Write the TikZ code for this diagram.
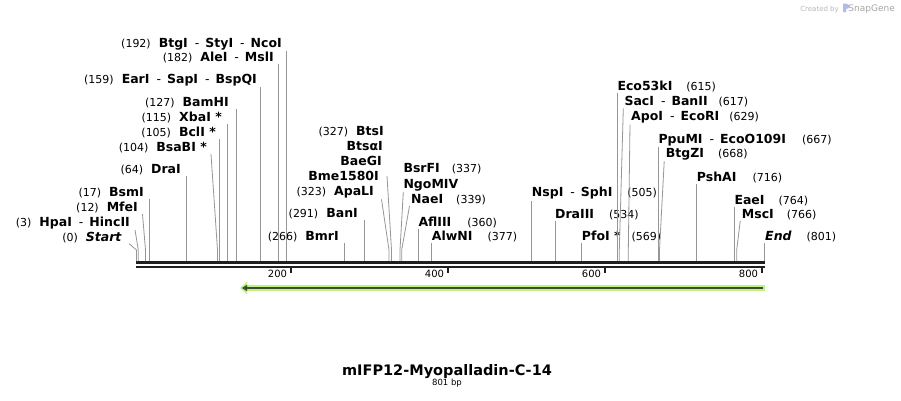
\documentclass[tikz,border=0pt]{standalone}
\usepackage{fontspec}
\setmainfont{DejaVu Sans}[ItalicFont={DejaVu Sans Oblique},BoldItalicFont={DejaVu Sans Bold Oblique}]
\usetikzlibrary{arrows.meta}
\definecolor{cutgray}{RGB}{150,150,150}
\definecolor{orflight}{RGB}{190,242,130}
\definecolor{orfdark}{RGB}{62,76,48}
\newcommand{\bpnum}[1]{{\mdseries\fontsize{11}{12}\selectfont(#1)}}
\newcommand{\orcut}{\hspace{7pt}{\mdseries-}\hspace{6pt}}
\begin{document}
\begin{tikzpicture}[x=1pt, y=-1pt,
  site/.style = {font=\bfseries\fontsize{12.5}{13}\selectfont, inner xsep=0pt, inner ysep=1pt},
  lsite/.style = {site, anchor=base east},
  rsite/.style = {site, anchor=base west},
  cutline/.style = {draw=cutgray, line width=0.8pt}]
\useasboundingbox[fill=white] (0,0) rectangle (901,400);
% cut sites on the sequence
\coordinate (s0) at (136.5,261); \coordinate (s3) at (138.3,261);
\coordinate (s12) at (145.5,261); \coordinate (s17) at (149,261);
\coordinate (s64) at (186,261); \coordinate (s104) at (217.5,261);
\coordinate (s105) at (219,261); \coordinate (s115) at (227,261);
\coordinate (s127) at (236,261); \coordinate (s159) at (260.5,261);
\coordinate (s182) at (278,261); \coordinate (s192) at (286.5,261);
\coordinate (s266) at (344,261); \coordinate (s291) at (364,261);
\coordinate (s323) at (389,261); \coordinate (s327) at (391.5,261);
\coordinate (s337) at (400,261); \coordinate (s339) at (401.7,261);
\coordinate (s360) at (418.3,261); \coordinate (s377) at (431.7,261);
\coordinate (s505) at (531.7,261); \coordinate (s534) at (555,261);
\coordinate (s569) at (581.7,261); \coordinate (s615) at (617,261);
\coordinate (s617) at (619.3,261); \coordinate (s629) at (628.3,261);
\coordinate (s667) at (658.3,261); \coordinate (s668) at (659.5,261);
\coordinate (s716) at (696.7,261); \coordinate (s764) at (734.3,261);
\coordinate (s766) at (736.7,261); \coordinate (s801) at (764.5,261);
% sequence line and ruler
\draw[line width=2.7pt, draw=black!88] (136,262.5) -- (765,262.5);
\draw[line width=2.5pt, draw=black!88] (136,267) -- (765,267);
\foreach \x/\t in {291/200, 448/400, 605/600, 762/800}
  \draw[line width=2pt, draw=black!88] (\x,266) -- (\x,272.5)
    node[anchor=base east, inner sep=0pt, font=\fontsize{10}{11}\selectfont, xshift=-3pt] at (\x,277) {\t};
% labels left of the cut
\node[lsite] (btgi) at (282,47) {\bpnum{192}\hspace{8pt}BtgI\orcut StyI\orcut NcoI};
\node[lsite] (alei) at (274,61.5) {\bpnum{182}\hspace{8pt}AleI\orcut MslI};
\node[lsite] (eari) at (257,83.5) {\bpnum{159}\hspace{8pt}EarI\orcut SapI\orcut BspQI};
\node[lsite] (bamhi) at (229,106.5) {\bpnum{127}\hspace{8pt}BamHI};
\node[lsite] (xbai) at (222,121.5) {\bpnum{115}\hspace{8pt}XbaI *};
\node[lsite] (bcli) at (216,136.5) {\bpnum{105}\hspace{8pt}BclI *};
\node[lsite] (bsabi) at (207,151.5) {\bpnum{104}\hspace{8pt}BsaBI *};
\node[lsite] (drai) at (181,173.5) {\bpnum{64}\hspace{8pt}DraI};
\node[lsite] (bsmi) at (144,196) {\bpnum{17}\hspace{8pt}BsmI};
\node[lsite] (mfei) at (138,211.5) {\bpnum{12}\hspace{8pt}MfeI};
\node[lsite] (hpai) at (130,226) {\bpnum{3}\hspace{8pt}HpaI\orcut HincII};
\node[lsite] (start) at (122,241) {\bpnum{0}\hspace{8pt}\textit{Start}};
\node[lsite] (btsi) at (384,135.5) {\bpnum{327}\hspace{8pt}BtsI};
\node[lsite] (btsai) at (383,150.5) {BtsαI};
\node[lsite] (baegi) at (382,165.5) {BaeGI};
\node[lsite] (bme) at (379,180.5) {Bme1580I};
\node[lsite] (apali) at (374,195.5) {\bpnum{323}\hspace{8pt}ApaLI};
\node[lsite] (bani) at (358,217.5) {\bpnum{291}\hspace{8pt}BanI};
\node[lsite] (bmri) at (339,240) {\bpnum{266}\hspace{8pt}BmrI};
% labels right of the cut
\node[rsite] (bsrfi) at (403.3,172) {BsrFI\hspace{12pt}\bpnum{337}};
\node[rsite] (ngomiv) at (403.3,188) {NgoMIV};
\node[rsite] (naei) at (411,203.3) {NaeI\hspace{13pt}\bpnum{339}};
\node[rsite] (afliii) at (418.3,226) {AflIII\hspace{16pt}\bpnum{360}};
\node[rsite] (alwni) at (431.7,240.5) {AlwNI\hspace{15pt}\bpnum{377}};
\node[rsite] (nspi) at (531.7,196.7) {NspI\orcut SphI\hspace{15pt}\bpnum{505}};
\node[rsite] (draiii) at (555,218.3) {DraIII\hspace{15pt}\bpnum{534}};
\node[rsite] (pfoi) at (581.7,240.7) {PfoI *\hspace{11pt}\bpnum{569}};
\node[rsite] (eco53ki) at (617.3,90.7) {Eco53kI\hspace{14pt}\bpnum{615}};
\node[rsite] (saci) at (624.3,105.7) {SacI\orcut BanII\hspace{11pt}\bpnum{617}};
\node[rsite] (apoi) at (631,120.7) {ApoI\orcut EcoRI\hspace{10pt}\bpnum{629}};
\node[rsite] (ppumi) at (658.3,143.3) {PpuMI\orcut EcoO109I\hspace{16pt}\bpnum{667}};
\node[rsite] (btgzi) at (665.7,157.5) {BtgZI\hspace{14pt}\bpnum{668}};
\node[rsite] (pshai) at (696.7,181) {PshAI\hspace{16pt}\bpnum{716}};
\node[rsite] (eaei) at (734.3,204) {EaeI\hspace{14pt}\bpnum{764}};
\node[rsite] (msci) at (741.7,218.3) {MscI\hspace{13pt}\bpnum{766}};
\node[rsite] (endl) at (765,240.7) {\textit{End}\hspace{15pt}\bpnum{801}};
% cut lines
\draw[cutline] (btgi.south -| s192) -- (s192);
\draw[cutline] (alei.south -| s182) -- (s182);
\draw[cutline] (eari.south -| s159) -- (s159);
\draw[cutline] (bamhi.south -| s127) -- (s127);
\draw[cutline] (xbai.south -| s115) -- (s115);
\draw[cutline] (bcli.south -| s105) -- (s105);
\draw[cutline] ([xshift=4pt]bsabi.south east) -- ([yshift=11pt]s104) -- (s104);
\draw[cutline] (drai.south -| s64) -- (s64);
\draw[cutline] (bsmi.south -| s17) -- (s17);
\draw[cutline] ([xshift=4.5pt]mfei.south east) -- ([yshift=11pt]s12) -- (s12);
\draw[cutline] ([xshift=5pt]hpai.south east) -- ([yshift=11pt]s3) -- (s3);
\draw[cutline] ([xshift=7pt]start.south east) -- ([yshift=11pt]s0) -- (s0);
\draw[cutline] ([xshift=8pt]bme.east) -- ([yshift=11pt]s327) -- (s327);
\draw[cutline] ([xshift=7.5pt]apali.south east) -- ([yshift=11pt]s323) -- (s323);
\draw[cutline] (bani.south -| s291) -- (s291);
\draw[cutline] (bmri.south -| s266) -- (s266);
\draw[cutline] (ngomiv.south west) -- ([yshift=11pt]s337) -- (s337);
\draw[cutline] ([xshift=-1.5pt]naei.south west) -- ([yshift=11pt]s339) -- (s339);
\draw[cutline] (afliii.south -| s360) -- (s360);
\draw[cutline] (alwni.south -| s377) -- (s377);
\draw[cutline] (nspi.south -| s505) -- (s505);
\draw[cutline] (draiii.south -| s534) -- (s534);
\draw[cutline] (pfoi.south -| s569) -- (s569);
\draw[cutline] (eco53ki.south -| s615) -- (s615);
\draw[cutline] ([xshift=-1pt]saci.south west) -- ([yshift=11pt]s617) -- (s617);
\draw[cutline] ([xshift=-1pt]apoi.south west) -- ([yshift=11pt]s629) -- (s629);
\draw[cutline] (ppumi.south -| s667) -- (s667);
\draw[cutline] ([xshift=-1.5pt]btgzi.south west) -- ([yshift=11pt]s668) -- (s668);
\draw[cutline] (pshai.south -| s716) -- (s716);
\draw[cutline] (eaei.south -| s764) -- (s764);
\draw[cutline] ([xshift=-1.5pt]msci.south west) -- ([yshift=11pt]s766) -- (s766);
\draw[cutline] (endl.south -| s801) -- (s801);
% feature arrow
\coordinate (orf-a) at (765,288);
\coordinate (orf-b) at (240,288);
\draw[orflight, line width=5.5pt, -{Triangle[length=7pt,width=12pt]}] (orf-a) -- (orf-b);
\draw[orfdark, line width=2.2pt, -{Triangle[length=5pt,width=6pt]}] ([xshift=-2pt]orf-a) -- ([xshift=2pt]orf-b);
% title
\node[anchor=base, font=\bfseries\fontsize{14.5}{16}\selectfont] (title) at (447,375) {mIFP12-Myopalladin-C-14};
\node[anchor=base, font=\fontsize{8.5}{9}\selectfont] (size) at (447,385.5) {801 bp};
% credit
\node[anchor=base east, inner sep=0pt, font=\fontsize{9}{10}\selectfont, text=black!35] (sg) at (895,11) {SnapGene};
\node[anchor=base east, inner sep=0pt, font=\fontsize{7}{8}\selectfont, text=black!28] (cb) at (839,11) {Created by};
\fill[cyan!35!blue!30] (843,3.5) rectangle (846,12) (846,3.5) -- (849,5) -- (849,8) -- (846,9) -- cycle;
\end{tikzpicture}
\end{document}
